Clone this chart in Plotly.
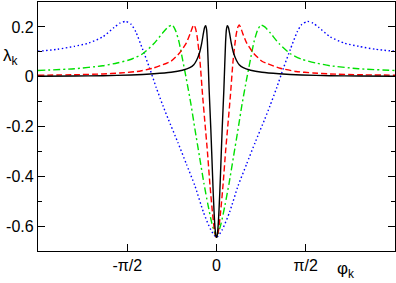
import math
import plotly.graph_objects as go

PI = math.pi

# black (solid)
phi_black = [-3.1416, -2.5, -2.0, -1.5, -1.1, -0.8, -0.6, -0.47, -0.4, -0.35, -0.30, -0.26, -0.23, -0.21, -0.19,
             -0.175, -0.16, -0.13, -0.10, -0.085, -0.057, -0.03, -0.012, 0.0,
             0.012, 0.03, 0.057, 0.085, 0.10, 0.13, 0.16, 0.175, 0.19, 0.21, 0.23, 0.26, 0.30, 0.35, 0.4, 0.47,
             0.6, 0.8, 1.1, 1.5, 2.0, 2.5, 3.1416]
lam_black = [0.002, 0.003, 0.004, 0.007, 0.012, 0.018, 0.026, 0.036, 0.048, 0.066, 0.095, 0.135, 0.175, 0.198, 0.205,
             0.19, 0.14, -0.05, -0.21, -0.30, -0.47, -0.595, -0.638, -0.645,
             -0.638, -0.595, -0.47, -0.30, -0.21, -0.05, 0.14, 0.19, 0.205, 0.198, 0.175, 0.135, 0.095, 0.066, 0.048, 0.036,
             0.026, 0.018, 0.012, 0.007, 0.004, 0.003, 0.002]

# red (dashed)
phi_red = [-3.1416, -2.5, -2.0, -1.7, -1.4, -1.12, -0.9, -0.8, -0.65, -0.53, -0.46, -0.42, -0.40, -0.37, -0.34,
           -0.29, -0.245, -0.20, -0.16, -0.115, -0.067, -0.03, 0.0,
           0.03, 0.067, 0.115, 0.16, 0.20, 0.245, 0.29, 0.34, 0.37, 0.40, 0.42, 0.46, 0.53, 0.65, 0.8, 0.9,
           1.12, 1.4, 1.7, 2.0, 2.5, 3.1416]
lam_red = [0.006, 0.008, 0.011, 0.015, 0.021, 0.034, 0.052, 0.062, 0.095, 0.136, 0.175, 0.2, 0.208, 0.195, 0.16,
           0.06, -0.075, -0.195, -0.30, -0.435, -0.555, -0.625, -0.645,
           -0.625, -0.555, -0.435, -0.30, -0.195, -0.075, 0.06, 0.16, 0.195, 0.208, 0.2, 0.175, 0.136, 0.095, 0.062, 0.052,
           0.034, 0.021, 0.015, 0.011, 0.008, 0.006]

# green (dash-dot)
phi_green = [-3.1416, -2.5, -2.0, -1.75, -1.5, -1.3, -1.1, -0.95, -0.85, -0.78, -0.72, -0.66, -0.62, -0.53,
             -0.45, -0.38, -0.30, -0.22, -0.15, -0.08, 0.0,
             0.08, 0.15, 0.22, 0.30, 0.38, 0.45, 0.53, 0.62, 0.66, 0.72, 0.78, 0.85, 0.95, 1.1, 1.3, 1.5,
             1.75, 2.0, 2.5, 3.1416]
lam_green = [0.025, 0.032, 0.044, 0.055, 0.07, 0.092, 0.133, 0.175, 0.2, 0.208, 0.185, 0.14, 0.096, -0.01,
             -0.11, -0.21, -0.32, -0.43, -0.515, -0.59, -0.645,
             -0.59, -0.515, -0.43, -0.32, -0.21, -0.11, -0.01, 0.096, 0.14, 0.185, 0.208, 0.2, 0.175, 0.133, 0.092, 0.07,
             0.055, 0.044, 0.032, 0.025]

# blue (dotted)
phi_blue = [-3.1416, -2.8, -2.5, -2.25, -2.0, -1.8, -1.7, -1.6, -1.5, -1.42, -1.30, -1.18, -1.06, -0.94, -0.85,
            -0.68, -0.53, -0.38, -0.23, -0.1, 0.0,
            0.1, 0.23, 0.38, 0.53, 0.68, 0.85, 0.94, 1.06, 1.18, 1.30, 1.42, 1.5, 1.6, 1.7, 1.8, 2.0, 2.25,
            2.5, 2.8, 3.1416]
lam_blue = [0.102, 0.11, 0.122, 0.135, 0.16, 0.198, 0.215, 0.222, 0.21, 0.18, 0.11, 0.036, -0.044, -0.118, -0.17,
            -0.264, -0.351, -0.438, -0.544, -0.615, -0.645,
            -0.615, -0.544, -0.438, -0.351, -0.264, -0.17, -0.118, -0.044, 0.036, 0.11, 0.18, 0.21, 0.222, 0.215, 0.198, 0.16, 0.135,
            0.122, 0.11, 0.102]

x_tickvals = [-PI / 2, 0, PI / 2]
x_ticktext = ["-\u03c0/2", "0", "\u03c0/2"]
y_tickvals = [-0.6, -0.4, -0.2, 0, 0.2]
y_ticktext = ["-0.6", "-0.4", "-0.2", "0", "0.2"]

fig = go.Figure()
series = [
    (phi_blue, lam_blue, "#0000ff", "1.5px,2.5px"),
    (phi_green, lam_green, "#00e000", "7px,3px,2px,3px"),
    (phi_red, lam_red, "#ff0000", "6px,3px"),
    (phi_black, lam_black, "#000000", "solid"),
]
for xs, ys, col, dash in series:
    fig.add_trace(go.Scatter(x=xs, y=ys, mode="lines",
                             line=dict(color=col, width=1.4, dash=dash, shape="spline", smoothing=0.6),
                             showlegend=False, hoverinfo="skip"))

font = dict(family="Liberation Sans, Arial, sans-serif", size=16, color="black")
fig.update_layout(
    width=396, height=283,
    margin=dict(l=38, r=1, t=2, b=32, autoexpand=False),
    paper_bgcolor="white", plot_bgcolor="white",
    font=font,
    xaxis=dict(range=[-PI, PI], tickvals=x_tickvals, ticktext=x_ticktext, automargin=False,
               ticks="inside", ticklen=7, tickwidth=1, tickcolor="black",
               showline=True, linecolor="black", linewidth=1.3, mirror="allticks",
               showgrid=False, zeroline=False, tickfont=font),
    yaxis=dict(range=[-0.7, 0.3], tickvals=y_tickvals, ticktext=y_ticktext, automargin=False,
               ticks="inside", ticklen=7, tickwidth=1, tickcolor="black",
               showline=True, linecolor="black", linewidth=1.3, mirror="allticks",
               showgrid=False, zeroline=False, tickfont=font,
               minor=dict(tickvals=[-0.5, -0.3, -0.1, 0.1], ticks="inside", ticklen=4, tickcolor="black")),
    annotations=[
        dict(text="\u03bb<sub>k</sub>", xref="paper", yref="paper", x=-0.103, y=0.78,
             xanchor="left", yanchor="middle", showarrow=False, font=dict(family=font["family"], size=17)),
        dict(text="\u03c6<sub>k</sub>", xref="paper", yref="paper", x=0.86, y=-0.025,
             xanchor="center", yanchor="top", showarrow=False, font=dict(family=font["family"], size=17)),
    ],
)
fig.write_html("out.html", config={"displayModeBar": False},
               post_script="document.body.style.margin='0';document.body.style.overflow='hidden';")
